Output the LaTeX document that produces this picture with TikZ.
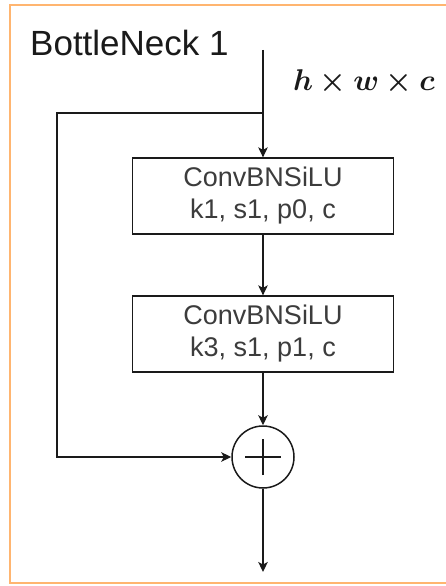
\RequirePackage{fix-cm}
\documentclass[tikz,border=0pt]{standalone}
\usepackage{amsmath,bm}
\usepackage{fontspec}
\setmainfont{Liberation Sans}
\usetikzlibrary{arrows.meta}
\definecolor{frameorange}{HTML}{FFB570}
\definecolor{ink}{HTML}{1A1A1A}
\tikzset{
  arr/.style={-{Stealth[length=10pt,width=9.5pt,inset=2.5pt]}, line width=1.3pt, draw=ink},
  stagebox/.style={draw=ink, line width=1.3pt, minimum width=261pt, minimum height=76pt,
    align=center, inner sep=0pt, text=ink!85, font=\fontsize{27}{32}\selectfont},
  addnode/.style={circle, draw=ink, line width=1.5pt, minimum size=62pt, inner sep=0pt},
}
\begin{document}
\begin{tikzpicture}[x=1pt,y=-1pt]
\useasboundingbox (0,0) rectangle (446,586);
\fill[white] (0,0) rectangle (446,586);
\draw[frameorange, line width=2pt] (10,5) rectangle (460,583);

\node[anchor=base west, inner sep=0pt, text=ink, font=\fontsize{35}{38}\selectfont] (title) at (30,56) {BottleNeck 1};
\node[anchor=base west, inner sep=0pt, text=ink, font=\fontsize{30}{34}\selectfont] (dims) at (293,90) {$\boldsymbol{h\times w\times c}$};

\coordinate (in) at (263,50);
\coordinate (split) at (263,113);
\coordinate (loop) at (57,113);
\node[stagebox] (b1) at (263,196) {ConvBNSiLU\\k1, s1, p0, c};
\node[stagebox] (b2) at (263,334) {ConvBNSiLU\\k3, s1, p1, c};
\node[addnode] (add) at (263,457) {};
\coordinate (out) at (263,572);

\draw[line width=1.6pt, draw=ink] ([xshift=-18pt]add.center) -- ([xshift=18pt]add.center)
  ([yshift=-18pt]add.center) -- ([yshift=18pt]add.center);

\draw[arr] (in) -- (b1);
\draw[arr] (split) -- (loop) |- (add.west);
\draw[arr] (b1) -- (b2);
\draw[arr] (b2) -- (add);
\draw[arr] (add) -- (out);
\end{tikzpicture}
\end{document}
